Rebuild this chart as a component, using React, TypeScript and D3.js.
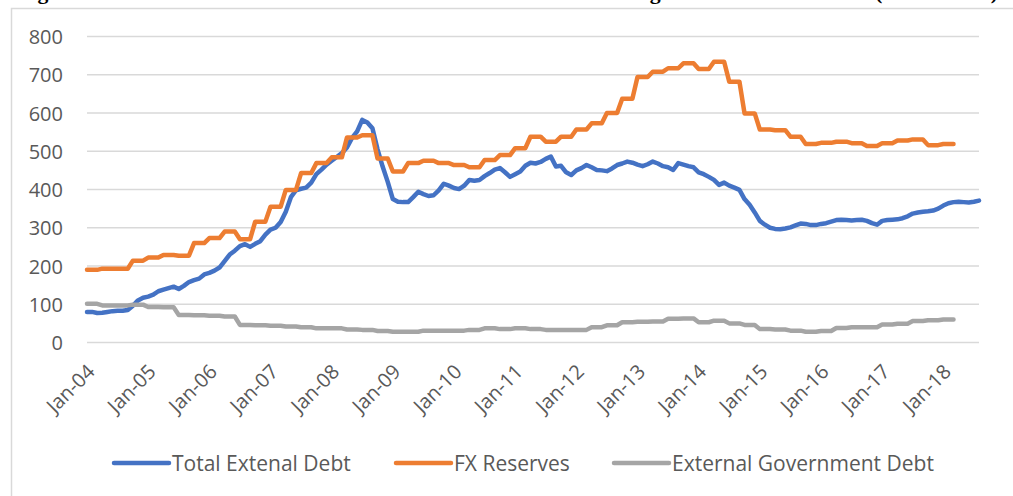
import React from "react";
import * as d3 from "d3";

// ---- Data ----
const tickLabels = ["Jan-04","Jan-05","Jan-06","Jan-07","Jan-08","Jan-09","Jan-10","Jan-11","Jan-12","Jan-13","Jan-14","Jan-15","Jan-16","Jan-17","Jan-18"];
const yTicks = [0, 100, 200, 300, 400, 500, 600, 700, 800];
const seriesNames = ["Total Extenal Debt", "FX Reserves", "External Government Debt"];
const seriesColors = ["#4472C4", "#ED7D31", "#A5A5A5"];

// Monthly, Jan-04 .. Aug-18
const totalExternalDebt = [
  80, 80, 77, 78, 80, 82, 83, 83, 85, 96, 110, 117,
  120, 125, 134, 138, 142, 146, 140, 148, 158, 163, 167, 178,
  182, 188, 196, 213, 230, 240, 252, 257, 250, 258, 265, 282,
  295, 300, 315, 342, 380, 398, 402, 405, 418, 440, 452, 465,
  475, 485, 495, 510, 535, 552, 582, 575, 560, 505, 460, 420,
  375, 368, 367, 367, 380, 394, 388, 383, 385, 398, 415, 410,
  404, 401, 410, 425, 423, 425, 435, 443, 452, 456, 445, 433,
  440, 447, 462, 470, 468, 472, 480, 486, 460, 462, 445, 438,
  450, 456, 464, 458, 451, 450, 448, 455, 464, 468, 473, 470,
  465, 461, 466, 473, 468, 461, 458, 451, 469, 465, 461, 458,
  445, 440, 433, 425, 412, 418, 410, 405, 399, 375, 360, 340,
  318, 308, 300, 297, 296, 298, 301, 306, 311, 310, 307, 307,
  310, 312, 316, 320, 321, 320, 319, 320, 321, 318, 312, 308,
  318, 320, 321, 322, 325, 330, 337, 340, 342, 343, 345, 350,
  358, 364, 367, 368, 367, 366, 368, 371,
];

// Quarterly (each quarter shown for its three months), Q1-04 .. Q1-18
const fxReservesQuarterly = [
  190, 193, 193, 214,
  222, 229, 227, 260,
  273, 290, 270, 316,
  355, 399, 443, 469,
  484, 536, 542, 481,
  447, 469, 475, 469,
  464, 458, 477, 490,
  508, 538, 525, 538,
  557, 573, 600, 637,
  694, 708, 717, 730,
  715, 734, 682, 599,
  557, 555, 538, 519,
  522, 525, 521, 514,
  521, 528, 531, 516,
  519,
];

const govDebtQuarterly = [
  101, 97, 97, 99,
  93, 92, 72, 71,
  70, 68, 46, 45,
  44, 42, 40, 37,
  37, 34, 33, 30,
  28, 28, 31, 31,
  31, 33, 37, 35,
  37, 35, 33, 33,
  33, 40, 45, 53,
  54, 55, 62, 63,
  53, 57, 50, 46,
  35, 34, 31, 28,
  30, 38, 40, 40,
  47, 49, 56, 58,
  60,
];

const W = 1013;
const H = 496;
const FONT = "'Open Sans', sans-serif";

export default function App() {
  const months = d3.range(totalExternalDebt.length);
  const x = d3.scaleLinear().domain([0, months.length - 1]).range([87, 979]);
  const y = d3.scaleLinear().domain([0, 800]).range([342.5, 36.5]);

  const fx = fxReservesQuarterly.flatMap((v) => [v, v, v]);
  const gov = govDebtQuarterly.flatMap((v) => [v, v, v]);
  const series = [totalExternalDebt, fx, gov];

  const line = d3
    .line<number>()
    .x((_, i) => x(i))
    .y((d) => y(d));

  const legendX = [114, 396, 614];

  return (
    <svg
      width={W}
      height={H}
      style={{ position: "absolute", left: 0, top: 0, background: "#fff" }}
    >
      <rect x={0} y={0} width={W} height={H} fill="#fff" />
      <text
        x={998}
        y={-1}
        textAnchor="end"
        fontFamily="'Liberation Serif', 'Times New Roman', serif"
        fontWeight="bold"
        fontSize={21.8}
        fill="#000"
      >
        Figure 3: Total External Debt and FX Reserves Relative to the Foreign Debt of Government (USD billion)
      </text>
      <rect x={11.5} y={8.5} width={1020} height={500} fill="#fff" stroke="#d9d9d9" strokeWidth={1.5} />

      {yTicks.map((t) => (
        <g key={t}>
          <line x1={87} x2={979} y1={y(t)} y2={y(t)} stroke="#d9d9d9" strokeWidth={1.5} />
          <text
            x={63}
            y={y(t)}
            textAnchor="end"
            dominantBaseline="central"
            fontFamily={FONT}
            fontSize={20}
            fill="#595959"
          >
            {t}
          </text>
        </g>
      ))}

      {tickLabels.map((lab, k) => {
        const tx = x(k * 12) + 9;
        const ty = 373;
        return (
          <text
            key={lab}
            x={tx}
            y={ty}
            textAnchor="end"
            transform={`rotate(-45 ${tx} ${ty})`}
            fontFamily={FONT}
            fontSize={20}
            fill="#595959"
          >
            {lab}
          </text>
        );
      })}

      {series.map((s, i) => (
        <path
          key={i}
          d={line(s) || ""}
          fill="none"
          stroke={seriesColors[i]}
          strokeWidth={4.5}
          strokeLinejoin="round"
          strokeLinecap="round"
        />
      ))}

      {seriesNames.map((name, i) => (
        <g key={name}>
          <line
            x1={legendX[i]}
            x2={legendX[i] + 55}
            y1={463}
            y2={463}
            stroke={seriesColors[i]}
            strokeWidth={4.5}
            strokeLinecap="round"
          />
          <text
            x={legendX[i] + 58}
            y={463}
            dominantBaseline="central"
            fontFamily={FONT}
            fontSize={21}
            fill="#595959"
          >
            {name}
          </text>
        </g>
      ))}
    </svg>
  );
}
